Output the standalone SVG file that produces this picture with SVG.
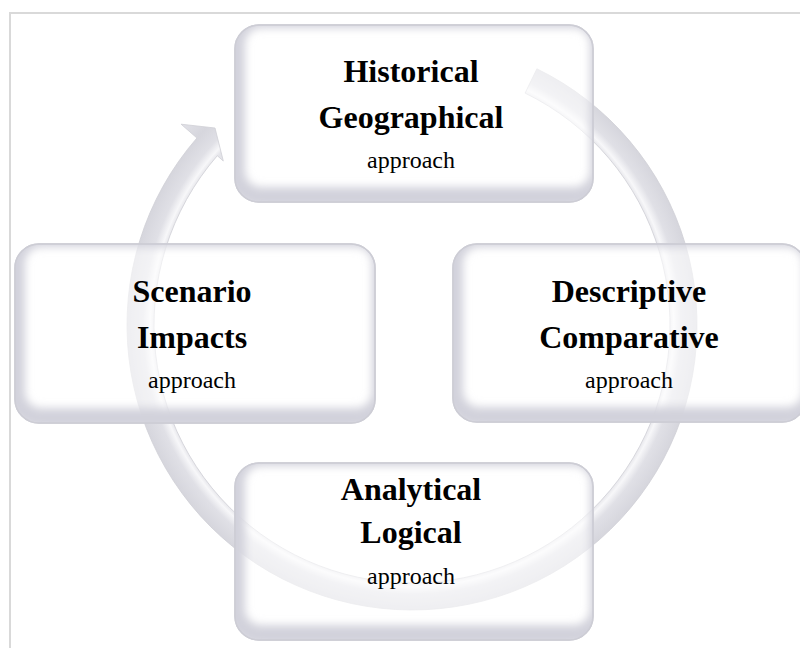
<svg xmlns="http://www.w3.org/2000/svg" width="800" height="648" viewBox="0 0 800 648">
  <defs>
    <radialGradient id="ringGrad" gradientUnits="userSpaceOnUse" cx="412" cy="325" r="306">
      <stop offset="0.84" stop-color="#e4e4e9"/>
      <stop offset="0.855" stop-color="#f7f7f9"/>
      <stop offset="0.88" stop-color="#e0e0e6"/>
      <stop offset="0.93" stop-color="#d6d6dd"/>
      <stop offset="1" stop-color="#e2e2e8"/>
    </radialGradient>
    <filter id="soft" x="-10%" y="-10%" width="120%" height="120%">
      <feGaussianBlur stdDeviation="4"/>
    </filter>
    <clipPath id="cH"><rect x="235" y="25" width="358" height="177" rx="24"/></clipPath>
    <clipPath id="cS"><rect x="15" y="244" width="360" height="179" rx="24"/></clipPath>
    <clipPath id="cD"><rect x="453" y="244" width="353" height="178" rx="24"/></clipPath>
    <clipPath id="cA"><rect x="235" y="463" width="358" height="177" rx="24"/></clipPath>
  </defs>
  <style>
    .frame { stroke: #d9d9d9; stroke-width: 2; fill: none; }
    .ring { fill: url(#ringGrad); stroke: #cfcfd6; stroke-width: 0.8; }
    .box { fill: #ffffff; fill-opacity: 0.6; stroke: #cdcdd5; stroke-width: 1.5; }
    .shade { fill: none; stroke: #d2d2db; stroke-width: 20; filter: url(#soft); }
    .title { font-family: "Liberation Serif", "Times New Roman", serif; font-weight: bold; font-size: 32px; fill: #000; text-anchor: middle; }
    .sub { font-family: "Liberation Serif", "Times New Roman", serif; font-size: 24px; fill: #000; text-anchor: middle; }
  </style>

  <rect width="800" height="648" fill="#ffffff"/>
  <path class="frame" d="M10,648 L10,13 L800,13"/>

  <g id="connectors">
    <path class="ring" d="M536.9,68.8 A285,285 0 1 1 196.9,138.0 L181.1,124.2 L215,128 L223.3,161 L217.3,155.7 A258,258 0 1 0 525.1,93.1 Z"/>
  </g>

  <g id="node-historical">
    <rect class="box" x="235" y="25" width="358" height="177" rx="24"/>
    <g clip-path="url(#cH)"><rect class="shade" x="235" y="18" width="365" height="179" rx="26"/></g>
    <rect x="235" y="25" width="358" height="177" rx="24" fill="none" stroke="#cdcdd5" stroke-width="1.5"/>
    <text class="title" x="411" y="82">Historical</text>
    <text class="title" x="411" y="128">Geographical</text>
    <text class="sub" x="411" y="168">approach</text>
  </g>

  <g id="node-scenario">
    <rect class="box" x="15" y="244" width="360" height="179" rx="24"/>
    <g clip-path="url(#cS)"><rect class="shade" x="15" y="237" width="367" height="181" rx="26"/></g>
    <rect x="15" y="244" width="360" height="179" rx="24" fill="none" stroke="#cdcdd5" stroke-width="1.5"/>
    <text class="title" x="192" y="302">Scenario</text>
    <text class="title" x="192" y="348">Impacts</text>
    <text class="sub" x="192" y="388">approach</text>
  </g>

  <g id="node-descriptive">
    <rect class="box" x="453" y="244" width="353" height="178" rx="24"/>
    <g clip-path="url(#cD)"><rect class="shade" x="453" y="237" width="360" height="180" rx="26"/></g>
    <rect x="453" y="244" width="353" height="178" rx="24" fill="none" stroke="#cdcdd5" stroke-width="1.5"/>
    <text class="title" x="629" y="302">Descriptive</text>
    <text class="title" x="629" y="348">Comparative</text>
    <text class="sub" x="629" y="388">approach</text>
  </g>

  <g id="node-analytical">
    <rect class="box" x="235" y="463" width="358" height="177" rx="24"/>
    <g clip-path="url(#cA)"><rect class="shade" x="235" y="456" width="365" height="179" rx="26"/></g>
    <rect x="235" y="463" width="358" height="177" rx="24" fill="none" stroke="#cdcdd5" stroke-width="1.5"/>
    <text class="title" x="411" y="500">Analytical</text>
    <text class="title" x="411" y="543">Logical</text>
    <text class="sub" x="411" y="584">approach</text>
  </g>
</svg>
